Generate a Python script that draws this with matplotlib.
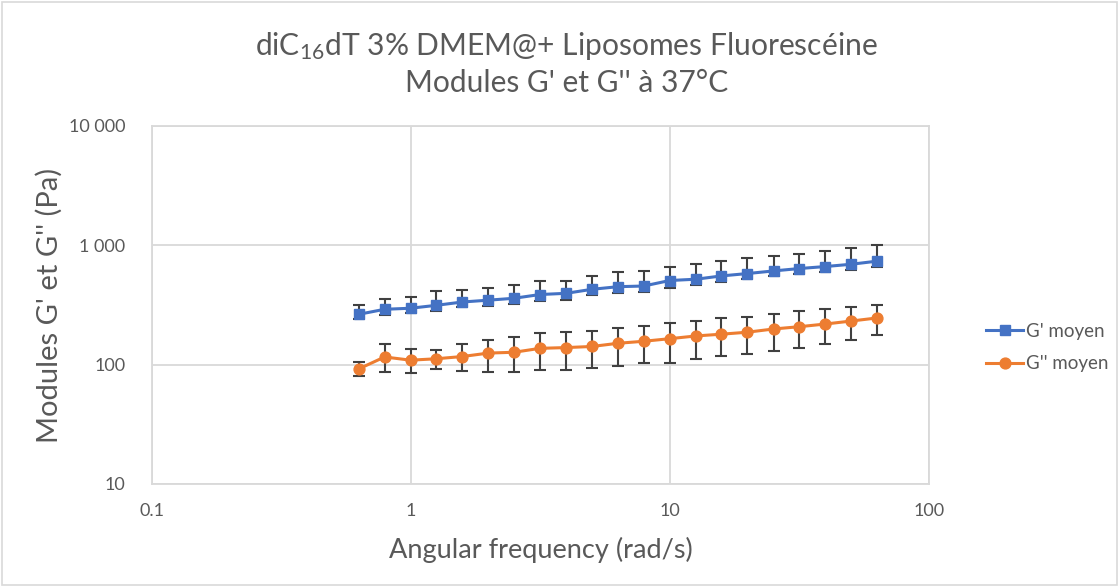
import numpy as np
import matplotlib.pyplot as plt
from matplotlib.patches import Rectangle

plt.rcParams['font.family'] = ['Lato', 'DejaVu Sans']
plt.rcParams['mathtext.default'] = 'regular'

# angular frequency (rad/s)
omega = [0.628, 0.791, 0.996, 1.25, 1.58, 1.99, 2.5, 3.15, 3.97, 5.0, 6.29,
         7.92, 9.97, 12.6, 15.8, 19.9, 25.1, 31.6, 39.8, 50.1, 62.8]

# G' moyen (Pa) with upper / lower error
g1 = [264, 291, 297, 314, 335, 347, 360, 387, 396, 428, 450,
      456, 507, 520, 554, 580, 610, 639, 664, 694, 736]
g1_up = [52, 67, 72, 104, 91, 96, 103, 116, 107, 123, 143,
         154, 145, 174, 182, 200, 205, 214, 233, 257, 266]
g1_lo = [25, 29, 26, 30, 33, 35, 38, 45, 50, 45, 48,
         50, 64, 51, 58, 60, 62, 66, 68, 72, 77]

# G'' moyen (Pa)
g2 = [92, 116, 109, 112, 117, 125, 127, 137, 139, 142, 151,
      157, 165, 174, 180, 187, 199, 208, 219, 232, 246]
g2_up = [13, 32, 25, 20, 31, 37, 42, 47, 48, 50, 53,
         54, 60, 57, 64, 63, 69, 71, 73, 72, 73]
g2_lo = [11, 30, 24, 20, 29, 39, 40, 47, 49, 49, 54,
         53, 62, 63, 62, 64, 69, 70, 69, 72, 70]

grey = '#595959'
fig = plt.figure(figsize=(11.19, 5.86), dpi=100)
fig.patches.append(Rectangle((0.002, 0.002), 0.996, 0.995, transform=fig.transFigure,
                             fill=False, edgecolor='#d9d9d9', linewidth=1.2))
ax = fig.add_axes([0.1358, 0.1741, 0.6944, 0.6109])

ax.errorbar(omega, g1, yerr=[g1_lo, g1_up], fmt='none', ecolor='#404040',
            elinewidth=1.5, capsize=4, capthick=1.5, zorder=2)
ax.errorbar(omega, g2, yerr=[g2_lo, g2_up], fmt='none', ecolor='#404040',
            elinewidth=1.5, capsize=4, capthick=1.5, zorder=2)
ax.plot(omega, g1, color='#4472C4', marker='s', markersize=7, linewidth=2.2,
        label="G' moyen", zorder=3)
ax.plot(omega, g2, color='#ED7D31', marker='o', markersize=7.8, linewidth=2.2,
        label="G'' moyen", zorder=3)

ax.set_xscale('log')
ax.set_yscale('log')
ax.set_xlim(0.1, 100)
ax.set_ylim(10, 10000)
ax.set_xticks([0.1, 1, 10, 100])
ax.set_xticklabels(['0.1', '1', '10', '100'])
ax.set_yticks([10, 100, 1000, 10000])
ax.set_yticklabels(['10', '100', '1 000', '10 000'])
ax.minorticks_off()
ax.tick_params(length=0, labelsize=13, labelcolor=grey)
ax.tick_params(axis='y', pad=19)
ax.tick_params(axis='x', pad=14)
ax.grid(True, color='#d9d9d9', linewidth=1.3)
for s in ax.spines.values():
    s.set_color('#d9d9d9')
    s.set_linewidth(1.3)

fig.text(540.5 / 1119, 1 - 550 / 586, 'Angular frequency (rad/s)', ha='center',
         va='center', fontsize=19.5, color=grey)
fig.text(49 / 1119, 1 - 305 / 586, "Modules G' et G'' (Pa)", ha='center',
         va='center', rotation=90, fontsize=21, color=grey)
fig.text(0.506, 0.892, r'diC$_{16}$dT 3% DMEM@+ Liposomes Fluorescéine' + '\n'
         + "Modules G' et G'' à 37°C", ha='center', va='center', fontsize=21.6,
         color=grey, linespacing=1.3)

fig.legend(loc='center left', bbox_to_anchor=(0.866, 0.407), frameon=False,
           fontsize=13.5, labelcolor=grey, handlelength=2.0, labelspacing=0.85,
           handletextpad=0.15)

fig.savefig('out.png', dpi=100)
